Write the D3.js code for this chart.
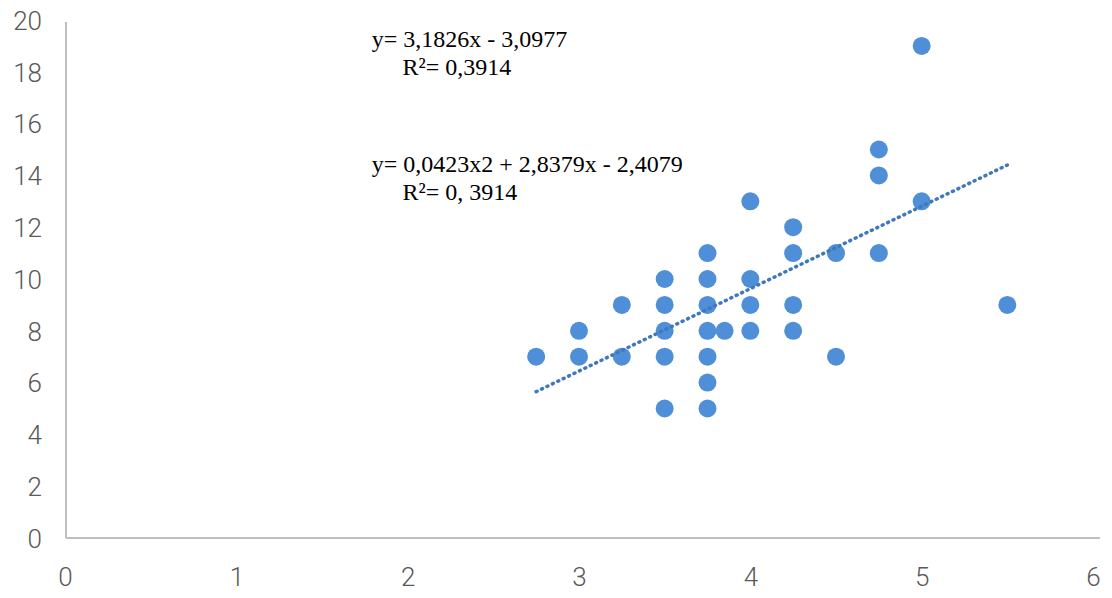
<!DOCTYPE html>
<html>
<head>
<meta charset="utf-8">
<script src="https://cdn.jsdelivr.net/npm/d3@7"></script>
<style>
  body { margin: 0; background: #fff; }
  .tick text { font-family: Roboto, sans-serif; font-weight: 300; fill: #595959; }
  .eq { font-family: "Liberation Serif", "Times New Roman", serif; fill: #000; }
</style>
</head>
<body>
<svg id="chart" width="1112" height="598"></svg>
<script>
// scatter points
var pointsX = [2.75, 3, 3, 3.25, 3.25,
               3.5, 3.5, 3.5, 3.5, 3.5,
               3.75, 3.75, 3.75, 3.75, 3.75, 3.75, 3.75,
               3.85,
               4, 4, 4, 4,
               4.25, 4.25, 4.25, 4.25,
               4.5, 4.5,
               4.75, 4.75, 4.75,
               5, 5,
               5.5];
var pointsY = [7, 8, 7, 9, 7,
               10, 9, 8, 7, 5,
               11, 10, 9, 8, 7, 6, 5,
               8,
               13, 10, 9, 8,
               12, 11, 9, 8,
               11, 7,
               15, 14, 11,
               19, 13,
               9];

// dotted trend line ends
var trendX = [2.75, 5.5];
var trendY = [5.65, 14.4];

var xTicks = [0, 1, 2, 3, 4, 5, 6];
var yTicks = [0, 2, 4, 6, 8, 10, 12, 14, 16, 18, 20];

var labels = [
    {text: 'y= 3,1826x - 3,0977', x: 1.79, y: 18.96},
    {text: 'R²= 0,3914', x: 1.97, y: 17.88},
    {text: 'y= 0,0423x2 + 2,8379x - 2,4079', x: 1.79, y: 14.13},
    {text: 'R²= 0, 3914', x: 1.97, y: 13.05}
];

var svg = d3.select('#chart');

var x = d3.scaleLinear().domain([0, 6]).range([65, 1093]);
var y = d3.scaleLinear().domain([0, 20]).range([538, 20]);

var axisX = d3.axisBottom(x).tickValues(xTicks).tickFormat(d3.format('d')).tickSize(0).tickPadding(30);
var axisY = d3.axisLeft(y).tickValues(yTicks).tickFormat(d3.format('d')).tickSize(0).tickPadding(24);

var $x = svg.append('g')
    .attr('transform', 'translate(0,' + y(0) + ')')
    .call(axisX);
$x.select('.domain').attr('stroke', '#bfbfbf').attr('stroke-width', 2)
    .attr('d', 'M' + (x(0) + 1) + ',0H1100');
$x.selectAll('.tick text').style('font-size', '26px');

var $y = svg.append('g')
    .attr('transform', 'translate(' + (x(0) + 1) + ',0)')
    .call(axisY);
$y.select('.domain').attr('stroke', '#bfbfbf').attr('stroke-width', 2)
    .attr('d', 'M0,' + (y(20) + 2) + 'V' + y(0));
$y.selectAll('.tick text').style('font-size', '26px').attr('dy', '0.36em');

svg.append('g').selectAll('circle')
    .data(pointsX.map(function(d, i) { return [d, pointsY[i]]; }))
    .enter().append('circle')
        .attr('cx', function(d) { return x(d[0]); })
        .attr('cy', function(d) { return y(d[1]); })
        .attr('r', 9)
        .attr('fill', '#4f8fd8');

svg.append('path')
    .datum(trendX.map(function(d, i) { return [d, trendY[i]]; }))
    .attr('d', d3.line().x(function(d) { return x(d[0]); }).y(function(d) { return y(d[1]); }))
    .attr('fill', 'none')
    .attr('stroke', '#3f78bd')
    .attr('stroke-width', 3.5)
    .attr('stroke-dasharray', '1 5')
    .attr('stroke-linecap', 'round');

svg.append('g').selectAll('text')
    .data(labels)
    .enter().append('text')
        .attr('class', 'eq')
        .attr('x', function(d) { return x(d.x); })
        .attr('y', function(d) { return y(d.y); })
        .style('font-size', '24px')
        .text(function(d) { return d.text; });
</script>
</body>
</html>
